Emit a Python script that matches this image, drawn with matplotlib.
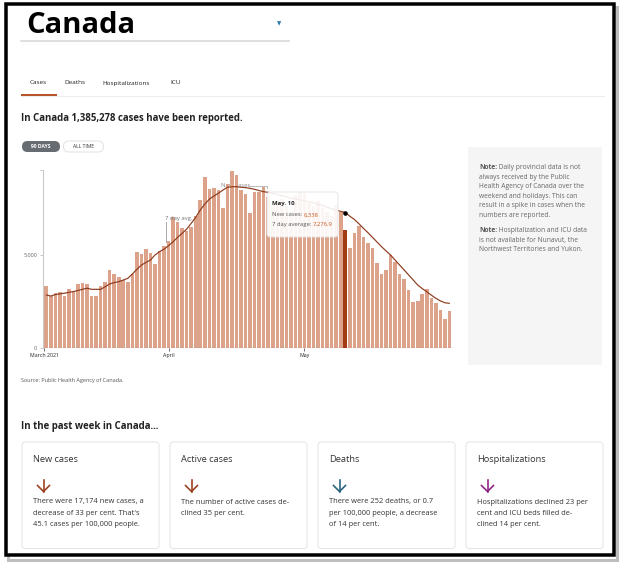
import matplotlib
matplotlib.use("Agg")
import matplotlib.pyplot as plt
from matplotlib.patches import Rectangle, FancyBboxPatch
from matplotlib.lines import Line2D

# ---------------- data ----------------
new_cases = [3340, 2820, 2980, 3000, 2800, 3160, 3030, 3430, 3520, 3430,
             2820, 2800, 3360, 3570, 4200, 3980, 3840, 3660, 3570, 3980,
             5160, 5050, 5320, 5090, 4520, 5200, 5480, 5750, 7020, 6790,
             6430, 6290, 6490, 7110, 7950, 9180, 8520, 8610, 8480, 7500,
             8800, 9520, 9290, 8480, 8270, 7230, 8360, 8360, 8660, 8100,
             7700, 7900, 8000, 7600, 7300, 8200, 8400, 8300, 7800, 7600,
             7900, 7500, 7300, 7100, 7700, 7300, 6338, 5360, 6160, 6570,
             5950, 5660, 5360, 4560, 3980, 4200, 5000, 4640, 3960, 3700,
             3120, 2460, 2550, 2910, 3160, 2680, 2410, 2050, 1590, 2010]
avg7 = [2860, 2800, 2880, 2920, 2950, 3000, 3040, 3100, 3160, 3220,
        3160, 3160, 3160, 3300, 3450, 3520, 3570, 3660, 3750, 3980,
        4230, 4460, 4600, 4730, 5000, 5180, 5310, 5500, 5710, 5950,
        6160, 6390, 6700, 7020, 7410, 7730, 7990, 8160, 8310, 8480,
        8630, 8660, 8660, 8630, 8610, 8570, 8520, 8450, 8390, 8360,
        8300, 8240, 8180, 8120, 8060, 8000, 7960, 7900, 7850, 7790,
        7720, 7650, 7560, 7480, 7400, 7340, 7277, 7080, 6910, 6680,
        6430, 6200, 5950, 5700, 5450, 5220, 5000, 4730, 4460, 4200,
        3930, 3660, 3390, 3200, 3030, 2850, 2680, 2540, 2440, 2410]
highlight_day = 66
month_labels = ["March 2021", "April", "May"]
month_pos = [-0.4, 27, 57]
y_ticks = [0, 5000]
y_tick_labels = ["0", "5,000"]
tooltip_date = "May. 10"
tooltip_cases = "6,338"
tooltip_avg = "7,276.9"

tabs = ["Cases", "Deaths", "Hospitalizations", "ICU"]
card_titles = ["New cases", "Active cases", "Deaths", "Hospitalizations"]
card_texts = [
    ["There were 17,174 new cases, a", "decrease of 33 per cent. That's", "45.1 cases per 100,000 people."],
    ["The number of active cases de-", "clined 35 per cent."],
    ["There were 252 deaths, or 0.7", "per 100,000 people, a decrease", "of 14 per cent."],
    ["Hospitalizations declined 23 per", "cent and ICU beds filled de-", "clined 14 per cent."],
]
card_colors = ["#9a3d1a", "#9a3d1a", "#22607f", "#8d1f84"]
note1 = ["Daily provincial data is not", "always received by the Public",
         "Health Agency of Canada over the", "weekend and holidays. This can",
         "result in a spike in cases when the", "numbers are reported."]
note2 = ["Hospitalization and ICU data", "is not available for Nunavut, the",
         "Northwest Territories and Yukon."]

# ---------------- style ----------------
FONT = ["Open Sans", "DejaVu Sans"]
BAR = "#DCA28A"
HL = "#A23B14"
LINE = "#8C3A1C"
ORANGE = "#C8561E"

W, H, DPI = 624, 568, 100
fig = plt.figure(figsize=(W / DPI, H / DPI), dpi=DPI)
bg = fig.add_axes([0, 0, 1, 1], zorder=0)
bg.set_xlim(0, W); bg.set_ylim(H, 0); bg.axis("off")
top = fig.add_axes([0, 0, 1, 1], zorder=5)
top.set_xlim(0, W); top.set_ylim(H, 0); top.axis("off"); top.patch.set_alpha(0)

def px(pt):  # pixels -> points
    return pt * 72 / DPI

def fax(l, t, r, b):
    return [l / W, 1 - b / H, (r - l) / W, (b - t) / H]

def txt(ax, x, y, s, size, color="#222", weight="normal", ha="left", va="center", **kw):
    return ax.text(x, y, s, fontsize=size, color=color, fontweight=weight, ha=ha, va=va,
                   family=FONT, **kw)

# frame with shadow
bg.add_patch(Rectangle((8, 7), 609, 553, facecolor="none", edgecolor="#bdbdbd", lw=px(3)))
bg.add_patch(Rectangle((5.5, 3.5), 608.5, 551.5, facecolor="white", edgecolor="black", lw=px(3.5)))

# header
txt(bg, 26, 25.5, "Canada", 21, color="black", weight="bold")
txt(bg, 279, 24, "\u25bc", 4, color="#2a7ab0", ha="center", va="center")
bg.add_line(Line2D([21, 289], [40.5, 40.5], color="#d5d5d5", lw=px(1.5)))

tab_x = [30, 64, 102, 170]
for s, x in zip(tabs, tab_x):
    txt(bg, x, 83, s, 4.6, color="#222")
bg.add_line(Line2D([21, 604], [95.7, 95.7], color="#ececec", lw=px(1)))
bg.add_line(Line2D([22, 56], [94.5, 94.5], color="#b5562b", lw=px(2)))

txt(bg, 21, 118.5, "In Canada 1,385,278 cases have been reported.", 6.9, weight="bold")

bg.add_patch(FancyBboxPatch((22, 141), 38, 11, boxstyle="round,pad=0,rounding_size=5.5",
                            facecolor="#676c72", edgecolor="none"))
txt(bg, 41, 146.5, "90 DAYS", 3.6, color="white", weight="bold", ha="center")
bg.add_patch(FancyBboxPatch((63.5, 141), 40, 11, boxstyle="round,pad=0,rounding_size=5.5",
                            facecolor="white", edgecolor="#e2e2e2", lw=px(1)))
txt(bg, 83.5, 146.5, "ALL TIME", 3.6, color="#333", ha="center")

# note box
bg.add_patch(Rectangle((468, 146.5), 134, 218, facecolor="#f5f5f5", edgecolor="none"))
ny = 169
for block in (note1, note2):
    for i, line in enumerate(block):
        if i == 0:
            t = txt(bg, 479, ny, "Note:", 4.8, color="#555", weight="bold", va="baseline")
            bg.annotate(" " + line, xy=(1, 0), xycoords=t, va="bottom", ha="left",
                        fontsize=4.8, color="#666", family=FONT)
        else:
            txt(bg, 479, ny, line, 4.8, color="#666", va="baseline")
        ny += 9.6
    ny += 5.5

txt(bg, 21, 380.5, "Source: Public Health Agency of Canada.", 4.0, color="#555")
txt(bg, 21, 427, "In the past week in Canada...", 6.9, weight="bold")

# cards
card_x = [22, 170, 318, 466]
for cx, title, lines, col in zip(card_x, card_titles, card_texts, card_colors):
    bg.add_patch(FancyBboxPatch((cx, 442), 137, 106.5, boxstyle="round,pad=0,rounding_size=3",
                                facecolor="white", edgecolor="#e4e4e4", lw=px(1)))
    txt(bg, cx + 11, 460, title, 6.7, color="#333")
    ax0 = cx + 21.5
    bg.add_line(Line2D([ax0, ax0], [479.5, 491.5], color=col, lw=px(1.6)))
    bg.add_line(Line2D([ax0 - 6, ax0, ax0 + 6], [485.5, 491.5, 485.5], color=col,
                       lw=px(1.6), solid_joinstyle="miter"))
    for j, ln in enumerate(lines):
        txt(bg, cx + 11, 502 + 11.4 * j, ln, 5.4, color="#333")

# ---------------- chart ----------------
pitch = 4.53
L, R, T, B = 42.7, 457, 170, 348.3
xl = -0.5 - (44 - L) / pitch
xr = xl + (R - L) / pitch
ytop = (B - T) / 0.01866
ax = fig.add_axes(fax(L, T, R, B), zorder=2)
ax.patch.set_alpha(0)
days = list(range(len(new_cases)))
cols = [HL if d == highlight_day else BAR for d in days]
ax.bar(days, new_cases, width=0.79, color=cols, zorder=2)
ax.plot(days, avg7, color=LINE, lw=0.85, zorder=3, solid_capstyle="round")
ax.plot([highlight_day], [avg7[highlight_day]], "o", color="black", ms=2.3, zorder=6)
ax.axhline(0, color="#444", lw=0.8, ls=(0, (1.5, 1)), zorder=4)
ax.set_xlim(xl, xr)
ax.set_ylim(0, ytop)
for s in ("top", "right", "bottom"):
    ax.spines[s].set_visible(False)
ax.spines["left"].set_color("#c9c9c9")
ax.spines["left"].set_linewidth(0.8)
ax.set_yticks(y_ticks + [ytop])
ax.set_yticklabels(y_tick_labels + [""])
ax.tick_params(axis="y", length=2.5, width=0.6, color="#bbbbbb", labelsize=4.0,
               labelcolor="#666", pad=1.5)
ax.set_xticks(month_pos)
ax.set_xticklabels(month_labels)
ax.tick_params(axis="x", length=2, width=0.6, color="#555", labelsize=3.8,
               labelcolor="#222", pad=1.5)
for lab in ax.get_xticklabels() + ax.get_yticklabels():
    lab.set_family(FONT)

# callouts
top.add_line(Line2D([165.7, 165.7], [222, 242], color="#aaaaaa", lw=px(1)))
txt(top, 165, 218.5, "7 day avg.", 4.3, color="#777")
top.add_line(Line2D([248, 266.5, 266.5], [185.5, 185.5, 188], color="#bbbbbb", lw=px(1)))
txt(ax, 38.5, (B - 185.5) / 0.01866, "New cases", 4.3, color="#888", zorder=1)

# tooltip
top.add_patch(FancyBboxPatch((267, 192), 71, 45, boxstyle="round,pad=0,rounding_size=3",
                             facecolor="white", alpha=0.9, edgecolor="#e3e3e3", lw=px(1)))
txt(top, 272, 203, tooltip_date, 4.3, color="#222", weight="bold")
t1 = txt(top, 272, 215, "New cases: ", 4.2, color="#555")
top.annotate(tooltip_cases, xy=(1, 0.5), xycoords=t1, va="center", ha="left",
             fontsize=4.2, color=ORANGE, family=FONT)
t2 = txt(top, 272, 224.5, "7 day average: ", 4.2, color="#555")
top.annotate(tooltip_avg, xy=(1, 0.5), xycoords=t2, va="center", ha="left",
             fontsize=4.2, color=ORANGE, family=FONT)

fig.savefig("out.png", dpi=DPI)
